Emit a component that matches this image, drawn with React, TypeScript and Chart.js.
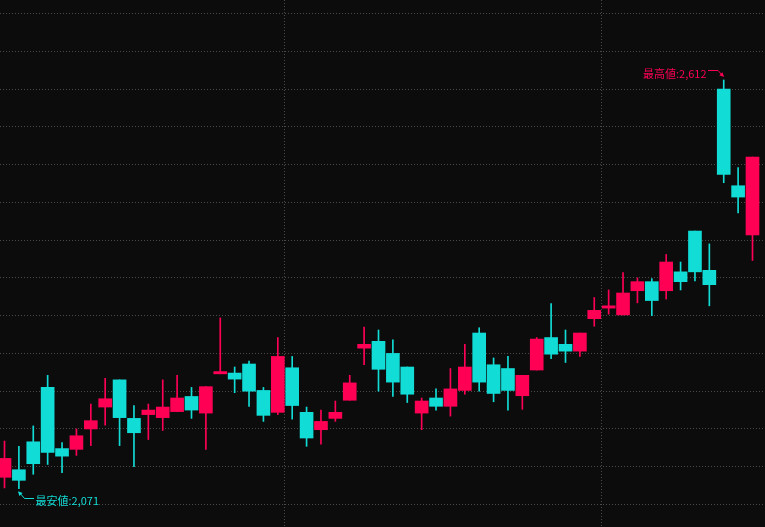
import { useEffect, useRef } from "react";
import { Chart, registerables } from "chart.js";

Chart.register(...registerables);

// OHLC values (one entry per trading day, oldest first)
const opens = [2086, 2096, 2133, 2205, 2124, 2123, 2150, 2179, 2215, 2164, 2169, 2165, 2173, 2193, 2171, 2223, 2224, 2236, 2201, 2172, 2231, 2172, 2149, 2164, 2188, 2257, 2266, 2250, 2232, 2171, 2191, 2180, 2201, 2277, 2235, 2230, 2194, 2228, 2271, 2262, 2253, 2296, 2310, 2301, 2333, 2345, 2333, 2358, 2412, 2360, 2600, 2472, 2407];
const highs = [2134, 2127, 2154, 2221, 2132, 2150, 2183, 2217, 2215, 2181, 2183, 2215, 2221, 2205, 2206, 2297, 2232, 2240, 2205, 2271, 2246, 2179, 2175, 2187, 2221, 2285, 2281, 2268, 2232, 2191, 2203, 2230, 2262, 2284, 2244, 2246, 2221, 2271, 2316, 2281, 2277, 2324, 2334, 2357, 2350, 2349, 2381, 2371, 2412, 2395, 2612, 2496, 2510];
const lows = [2072, 2071, 2090, 2103, 2092, 2115, 2128, 2155, 2128, 2100, 2136, 2148, 2173, 2164, 2123, 2223, 2198, 2180, 2160, 2169, 2163, 2127, 2130, 2160, 2188, 2235, 2200, 2193, 2185, 2149, 2175, 2167, 2196, 2200, 2186, 2175, 2176, 2228, 2243, 2238, 2246, 2286, 2302, 2301, 2317, 2300, 2322, 2334, 2346, 2313, 2476, 2436, 2373];
const closes = [2111, 2082, 2104, 2119, 2114, 2141, 2161, 2190, 2165, 2145, 2175, 2179, 2191, 2175, 2206, 2226, 2216, 2200, 2168, 2246, 2181, 2138, 2160, 2172, 2211, 2262, 2229, 2212, 2196, 2187, 2180, 2203, 2232, 2212, 2197, 2201, 2221, 2269, 2249, 2253, 2277, 2307, 2313, 2330, 2345, 2320, 2371, 2345, 2358, 2341, 2487, 2457, 2510];

// horizontal grid values and vertical period separators (between candles)
const yGridValues = [2050, 2100, 2150, 2200, 2250, 2300, 2350, 2400, 2450, 2500, 2550, 2600, 2650, 2700];
const periodBreaks = [19.47, 41.5];

const highLabel = "最高値";
const lowLabel = "最安値";

const UP = "#ff0055";
const DOWN = "#12dcd6";
const GRID = "#4a4a4a";
const BG = "#0c0c0c";

export default function App() {
  const ref = useRef<HTMLCanvasElement>(null);

  useEffect(() => {
    if (!ref.current) return;
    const colors = opens.map((o, i) => (closes[i] >= o ? UP : DOWN));
    const bodies = opens.map((o, i) => ({ x: i, y: [o, closes[i]] }));
    const wicks = opens.map((_, i) => ({ x: i, y: [lows[i], highs[i]] }));

    const fmt = (v: number) => v.toLocaleString("en-US");

    const hiLo = {
      id: "hiLo",
      afterDatasetsDraw(chart: any) {
        const ctx = chart.ctx as CanvasRenderingContext2D;
        const xs = chart.scales.x;
        const ys = chart.scales.y;
        const hi = Math.max(...highs);
        const hiIdx = highs.indexOf(hi);
        const lo = Math.min(...lows);
        const loIdx = lows.indexOf(lo);
        ctx.save();
        ctx.font = '11px "Noto Sans CJK JP", "Noto Sans", sans-serif';
        ctx.lineWidth = 1;

        const head = (tx: number, ty: number, dx: number, dy: number, color: string) => {
          const len = Math.hypot(dx, dy);
          const ux = dx / len, uy = dy / len;
          const px = -uy, py = ux;
          ctx.fillStyle = color;
          ctx.beginPath();
          ctx.moveTo(tx, ty);
          ctx.lineTo(tx - ux * 4.5 + px * 2.2, ty - uy * 4.5 + py * 2.2);
          ctx.lineTo(tx - ux * 4.5 - px * 2.2, ty - uy * 4.5 - py * 2.2);
          ctx.closePath();
          ctx.fill();
        };

        // highest
        {
          const px = Math.round(xs.getPixelForValue(hiIdx)) + 0.5;
          const py = ys.getPixelForValue(hi);
          const lineY = Math.round(py - 9.5) + 0.5;
          const tipX = px - 0.5, tipY = py - 3;
          ctx.strokeStyle = UP;
          ctx.beginPath();
          ctx.moveTo(px - 16.5, lineY);
          ctx.lineTo(px - 6.5, lineY);
          ctx.lineTo(tipX - 1, tipY - 1);
          ctx.stroke();
          head(tipX, tipY, tipX - (px - 6.5), tipY - lineY, UP);
          ctx.fillStyle = UP;
          ctx.textAlign = "right";
          ctx.textBaseline = "middle";
          ctx.fillText(`${highLabel}:${fmt(hi)}`, px - 18, lineY + 3);
        }
        // lowest
        {
          const px = Math.round(xs.getPixelForValue(loIdx)) + 0.5;
          const py = ys.getPixelForValue(lo);
          const lineY = Math.round(py + 9) + 0.5;
          const tipX = px - 1.5, tipY = py + 2.5;
          ctx.strokeStyle = DOWN;
          ctx.beginPath();
          ctx.moveTo(px + 14.5, lineY);
          ctx.lineTo(px + 5, lineY);
          ctx.lineTo(tipX + 1, tipY + 1);
          ctx.stroke();
          head(tipX, tipY, tipX - (px + 5), tipY - lineY, DOWN);
          ctx.fillStyle = DOWN;
          ctx.textAlign = "left";
          ctx.textBaseline = "middle";
          ctx.fillText(`${lowLabel}:${fmt(lo)}`, px + 16, lineY + 2);
        }
        ctx.restore();
      },
    };

    const chart = new Chart(ref.current, {
      type: "bar",
      data: {
        datasets: [
          {
            data: bodies as any,
            backgroundColor: colors,
            barThickness: 13,
            grouped: false,
            order: 0,
            borderWidth: 0,
          } as any,
          {
            data: wicks as any,
            backgroundColor: colors,
            barThickness: 1,
            grouped: false,
            order: 1,
            borderWidth: 0,
          } as any,
        ],
      },
      options: {
        animation: false,
        responsive: true,
        maintainAspectRatio: false,
        layout: { padding: 0 },
        plugins: { legend: { display: false }, tooltip: { enabled: false } },
        scales: {
          x: {
            type: "linear",
            min: -0.3128,
            max: 52.869,
            bounds: "data",
            offset: false,
            grid: { offset: false, color: GRID, drawTicks: false, lineWidth: 1 },
            border: { display: false, dash: [1, 2] },
            ticks: { display: false },
            afterBuildTicks: (s: any) => {
              s.ticks = periodBreaks.map((v) => ({ value: v }));
            },
          },
          y: {
            type: "linear",
            min: 2020.21,
            max: 2717.87,
            bounds: "data",
            grid: { color: GRID, drawTicks: false, lineWidth: 1 },
            border: { display: false, dash: [1, 2] },
            ticks: { display: false },
            afterBuildTicks: (s: any) => {
              s.ticks = yGridValues.map((v) => ({ value: v }));
            },
          },
        } as any,
      },
      plugins: [hiLo],
    });
    return () => chart.destroy();
  }, []);

  return (
    <div style={{ position: "fixed", left: 0, top: 0, width: 765, height: 527, background: BG }}>
      <canvas ref={ref} />
    </div>
  );
}
